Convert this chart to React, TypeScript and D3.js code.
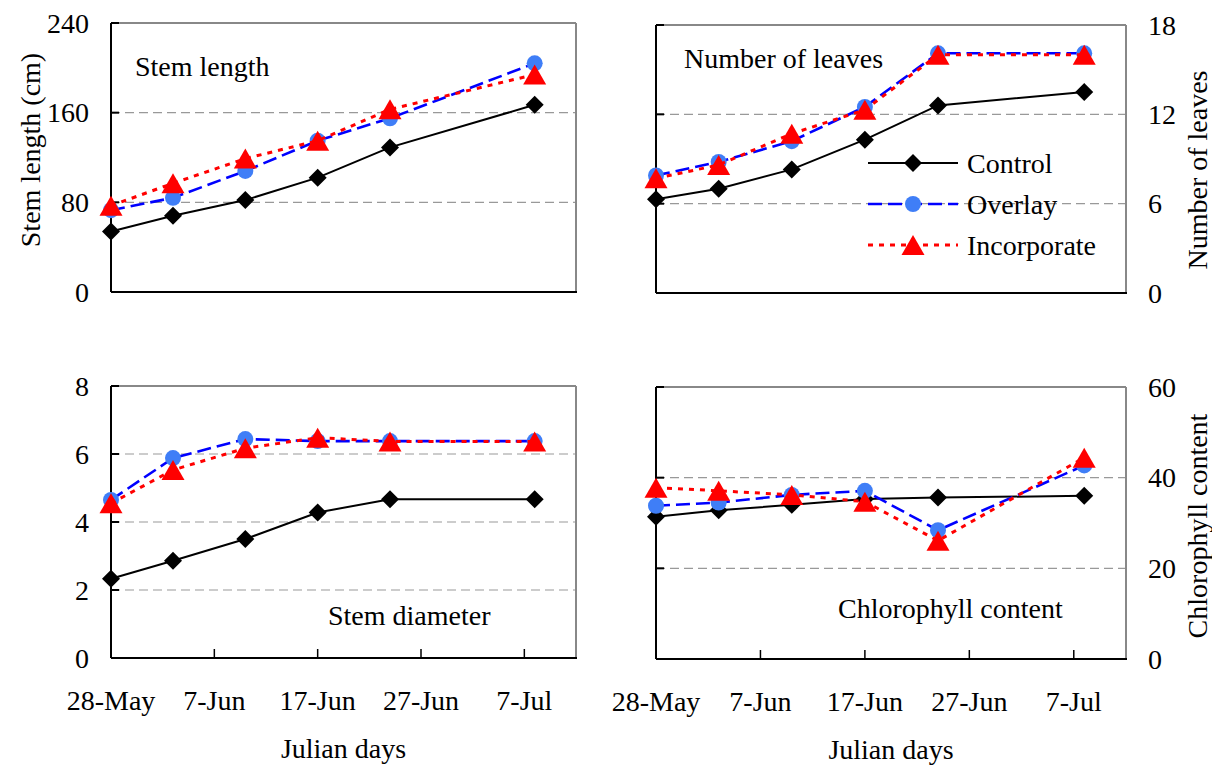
import React from "react";
import * as d3 from "d3";

const dates = ["2009-05-28", "2009-06-03", "2009-06-10", "2009-06-17", "2009-06-24", "2009-07-08"];
const tickDates = ["2009-05-28", "2009-06-07", "2009-06-17", "2009-06-27", "2009-07-07"];
const domainDates = ["2009-05-28", "2009-07-12"];
const seriesNames = ["Control", "Overlay", "Incorporate"];

const stemLengthControl = [54, 68, 82, 102, 129, 167];
const stemLengthOverlay = [73, 84, 108, 135, 155, 204];
const stemLengthIncorporate = [77, 97, 119, 135, 163, 194];

const leavesControl = [6.3, 7.0, 8.3, 10.3, 12.6, 13.5];
const leavesOverlay = [7.9, 8.8, 10.2, 12.5, 16.1, 16.1];
const leavesIncorporate = [7.7, 8.6, 10.7, 12.3, 16.0, 16.0];

const diameterControl = [2.33, 2.86, 3.5, 4.28, 4.67, 4.67];
const diameterOverlay = [4.65, 5.88, 6.44, 6.38, 6.38, 6.38];
const diameterIncorporate = [4.55, 5.53, 6.17, 6.48, 6.37, 6.37];

const chlorophyllControl = [31.4, 32.8, 34.0, 35.3, 35.6, 36.0];
const chlorophyllOverlay = [33.8, 34.5, 36.2, 37.1, 28.4, 42.7];
const chlorophyllIncorporate = [37.8, 37.1, 36.2, 34.7, 26.1, 44.4];

const stemLengthTicks = [0, 80, 160, 240];
const leavesTicks = [0, 6, 12, 18];
const diameterTicks = [0, 2, 4, 6, 8];
const chlorophyllTicks = [0, 20, 40, 60];

const FONT = "'Liberation Serif', 'Times New Roman', serif";
const FS = 28;

const parse = d3.utcParse("%Y-%m-%d");
const fmt = d3.utcFormat("%-d-%b");

const styles = [
  { stroke: "#000000", width: 2, dash: null as string | null, marker: "diamond", fill: "#000000" },
  { stroke: "#0000FF", width: 2.6, dash: "14,6", marker: "circle", fill: "#3F7EF7" },
  { stroke: "#FF0000", width: 3, dash: "5,6", marker: "triangle", fill: "#FF0000" },
];

function Marker({ type, x, y, fill }: { type: string; x: number; y: number; fill: string }) {
  if (type === "diamond") {
    const s = 9;
    return <path d={`M${x},${y - s}L${x + s},${y}L${x},${y + s}L${x - s},${y}Z`} fill={fill} />;
  }
  if (type === "circle") return <circle cx={x} cy={y} r={8} fill={fill} />;
  const w = 23, h = 20;
  return <path d={`M${x},${y - h / 2}L${x + w / 2},${y + h / 2}L${x - w / 2},${y + h / 2}Z`} fill={fill} />;
}

type PanelProps = {
  x0: number; x1: number; y0: number; y1: number;
  domain: [number, number]; ticks: number[];
  series: number[][];
  side: "left" | "right";
  showX: boolean;
  title: string; titleX: number; titleY: number;
  yTitle: string; yTitleX: number; yTitleY: number;
  clipTop?: number;
  id: string;
};

function Panel(p: PanelProps) {
  const x = d3.scaleUtc().domain(domainDates.map((d) => parse(d) as Date)).range([p.x0, p.x1]);
  const y = d3.scaleLinear().domain(p.domain).range([p.y1, p.y0]);
  const pts = dates.map((d) => parse(d) as Date);
  const line = d3.line<[number, number]>().x((d) => d[0]).y((d) => d[1]);
  return (
    <g>
      {p.ticks.filter((t) => t !== p.domain[0] && t !== p.domain[1]).map((t) => (
        <line key={"g" + t} x1={p.x0} x2={p.x1} y1={y(t)} y2={y(t)} stroke="#999" strokeWidth={1.2} strokeDasharray="9,5" />
      ))}
      <line x1={p.x0} x2={p.x1} y1={p.y0} y2={p.y0} stroke="#888" strokeWidth={2} />
      <line x1={p.x1} x2={p.x1} y1={p.y0} y2={p.y1} stroke="#888" strokeWidth={2} />
      <line x1={p.x0} x2={p.x0} y1={p.y0} y2={p.y1} stroke="#000" strokeWidth={2} />
      <line x1={p.x0} x2={p.x1 + 1} y1={p.y1} y2={p.y1} stroke="#000" strokeWidth={2} />
      {p.ticks.map((t) => (
        <line key={"yt" + t} x1={p.x0} x2={p.x0 + 8} y1={y(t)} y2={y(t)} stroke="#000" strokeWidth={2} />
      ))}
      {p.ticks.map((t) => (
        <text key={"yl" + t} x={p.side === "left" ? p.x0 - 22 : p.x1 + 22} y={y(t)} dy="0.35em"
          textAnchor={p.side === "left" ? "end" : "start"} fontFamily={FONT} fontSize={FS}>{t}</text>
      ))}
      {p.showX && tickDates.map((d) => {
        const xv = x(parse(d) as Date);
        return (
          <g key={d}>
            <line x1={xv} x2={xv} y1={p.y1} y2={p.y1 - 9} stroke="#000" strokeWidth={1.5} />
            <text x={xv} y={p.y1 + 52} textAnchor="middle" fontFamily={FONT} fontSize={FS}>{fmt(parse(d) as Date)}</text>
          </g>
        );
      })}
      {p.showX && (
        <text x={(p.x0 + p.x1) / 2} y={p.y1 + 100} textAnchor="middle" fontFamily={FONT} fontSize={FS}>Julian days</text>
      )}
      {p.clipTop !== undefined && (
        <defs>
          <clipPath id={p.id}>
            <rect x={0} y={p.clipTop} width={p.x0} height={1000} />
          </clipPath>
        </defs>
      )}
      <text transform={`translate(${p.yTitleX},${p.yTitleY}) rotate(-90)`} textAnchor="middle" dy="0.35em"
        fontFamily={FONT} fontSize={FS} clipPath={p.clipTop !== undefined ? `url(#${p.id})` : undefined}>{p.yTitle}</text>
      <text x={p.titleX} y={p.titleY} fontFamily={FONT} fontSize={FS}>{p.title}</text>
      {p.series.map((vals, i) => {
        const s = styles[i];
        const coords = vals.map((v, j) => [x(pts[j]), y(v)] as [number, number]);
        return (
          <g key={i}>
            <path d={line(coords) || ""} fill="none" stroke={s.stroke} strokeWidth={s.width}
              strokeDasharray={s.dash || undefined} />
            {coords.map((c, j) => <Marker key={j} type={s.marker} x={c[0]} y={c[1]} fill={s.fill} />)}
          </g>
        );
      })}
    </g>
  );
}

function Legend({ x, y }: { x: number; y: number }) {
  return (
    <g>
      {seriesNames.map((n, i) => {
        const s = styles[i];
        const yy = y + i * 41;
        return (
          <g key={n}>
            <line x1={x} x2={x + 90} y1={yy} y2={yy} stroke={s.stroke} strokeWidth={s.width} strokeDasharray={s.dash || undefined} />
            <Marker type={s.marker} x={x + 45} y={yy} fill={s.fill} />
            <text x={x + 99} y={yy} dy="0.35em" fontFamily={FONT} fontSize={FS}>{n}</text>
          </g>
        );
      })}
    </g>
  );
}

export default function App() {
  return (
    <svg width={1212} height={767} style={{ position: "absolute", left: 0, top: 0, background: "#fff" }}>
      <rect width={1212} height={767} fill="#fff" />
      <Panel id="tl" x0={111} x1={576} y0={23} y1={292} domain={[0, 240]} ticks={stemLengthTicks}
        series={[stemLengthControl, stemLengthOverlay, stemLengthIncorporate]} side="left" showX={false}
        title="Stem length" titleX={135} titleY={76} yTitle="Stem length (cm)" yTitleX={30} yTitleY={150} />
      <Panel id="tr" x0={656} x1={1126} y0={25} y1={293} domain={[0, 18]} ticks={leavesTicks}
        series={[leavesControl, leavesOverlay, leavesIncorporate]} side="right" showX={false}
        title="Number of leaves" titleX={684} titleY={68} yTitle="Number of leaves" yTitleX={1197} yTitleY={170} />
      <Panel id="bl" x0={111} x1={576} y0={386} y1={658} domain={[0, 8]} ticks={diameterTicks}
        series={[diameterControl, diameterOverlay, diameterIncorporate]} side="left" showX={true}
        title="Stem diameter" titleX={328} titleY={625} yTitle="Stem Diameter (cm)" yTitleX={33} yTitleY={520} clipTop={411} />
      <Panel id="br" x0={656} x1={1126} y0={387} y1={659} domain={[0, 60]} ticks={chlorophyllTicks}
        series={[chlorophyllControl, chlorophyllOverlay, chlorophyllIncorporate]} side="right" showX={true}
        title="Chlorophyll content" titleX={838} titleY={618} yTitle="Chlorophyll content" yTitleX={1197} yTitleY={526} />
      <Legend x={868} y={163} />
    </svg>
  );
}
